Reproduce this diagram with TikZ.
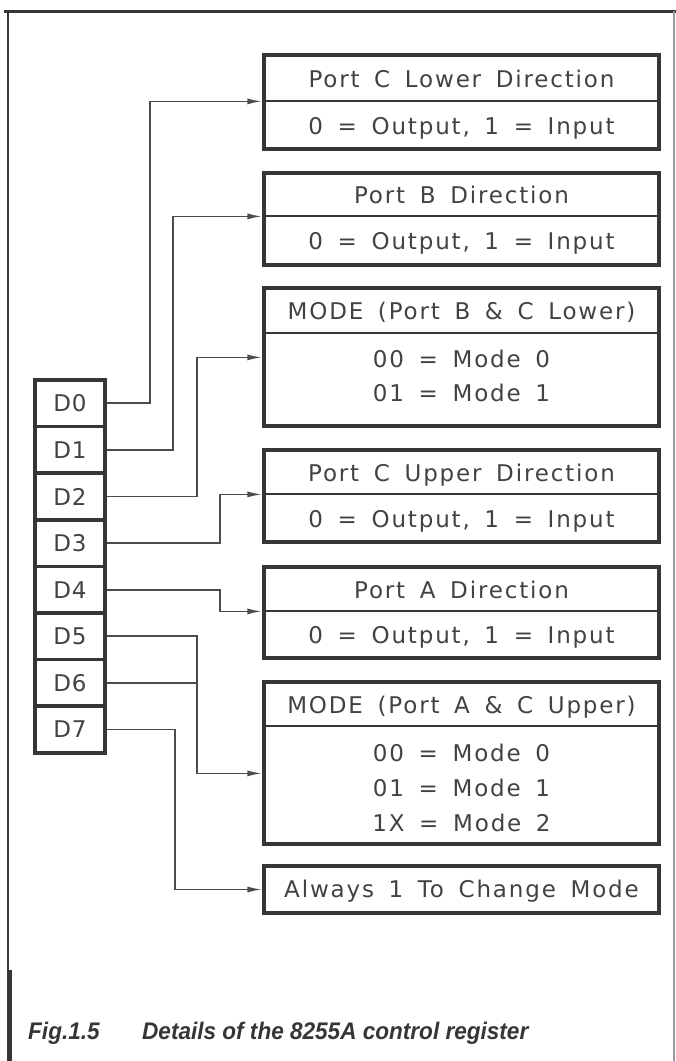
\documentclass[tikz,border=0pt]{standalone}
\usepackage{fontspec}
\setmainfont{DejaVu Sans}
\newfontfamily\cadfont[LetterSpace=8,WordSpace=1.6]{DejaVu Sans}
\newfontfamily\regfont[LetterSpace=4]{DejaVu Sans}
\newfontfamily\capfont[FakeStretch=0.94]{Liberation Sans}
\usetikzlibrary{arrows.meta,calc}

\definecolor{ink}{HTML}{363636}
\definecolor{txt}{HTML}{424242}
\definecolor{wire}{HTML}{4C4C4C}
\definecolor{edge}{HTML}{9A9A9A}

\tikzset{
  cell/.style={draw=ink, line width=3.6pt, minimum width=70pt, minimum height=46.6pt,
    inner sep=0pt, text=txt, font=\regfont\fontsize{23}{26}\selectfont},
  boxframe/.style={draw=ink, line width=3.2pt, minimum width=395pt, inner sep=0pt},
  boxtext/.style={text=txt, inner sep=0pt, anchor=base, font=\cadfont\fontsize{23}{27}\selectfont},
  divider/.style={draw=ink, line width=2pt},
  conn/.style={draw=wire, line width=1.8pt},
  arr/.style={conn, -{Latex[length=15pt,width=6pt]}},
  captext/.style={text=ink, inner sep=0pt, anchor=base west,
    font=\capfont\bfseries\itshape\fontsize{24}{28}\selectfont}
}

\begin{document}
\begin{tikzpicture}[x=1pt,y=-1pt]
\useasboundingbox (0,0) rectangle (676,1061);

% page frame
\draw[ink, line width=3pt] (4,11) -- (676,11);
\draw[ink, line width=2.4pt] (8,11) -- (8,1061);
\draw[ink, line width=5pt] (9,970) -- (9,1061);
\draw[edge, line width=1.2pt] (674,11) -- (674,1061);

% control register bits
\foreach \i in {0,...,7} {
  \node[cell] (D\i) at (70, 403.3+46.6*\i) {D\i};
}

% destination boxes
\node[boxframe, minimum height=94pt]  (b1) at (461.5,102) {};
\node[boxframe, minimum height=92pt]  (b2) at (461.5,219) {};
\node[boxframe, minimum height=138pt] (b3) at (461.5,357) {};
\node[boxframe, minimum height=92pt]  (b4) at (461.5,496) {};
\node[boxframe, minimum height=91pt]  (b5) at (461.5,612.5) {};
\node[boxframe, minimum height=162pt] (b6) at (461.5,763) {};
\node[boxframe, minimum height=47pt]  (b7) at (461.5,889.5) {};

% dividers under the titles
\coordinate (b1d) at ($(b1.north west)+(0,48)$);
\coordinate (b2d) at ($(b2.north west)+(0,45)$);
\coordinate (b3d) at ($(b3.north west)+(0,47)$);
\coordinate (b4d) at ($(b4.north west)+(0,46)$);
\coordinate (b5d) at ($(b5.north west)+(0,46)$);
\coordinate (b6d) at ($(b6.north west)+(0,46)$);
\foreach \b in {b1,b2,b3,b4,b5,b6} {
  \draw[divider] (\b d) -- (\b d -| \b.east);
}
\coordinate (in3) at ($(b3.north west)+(0,71)$);
\coordinate (in6) at ($(b6.north west)+(0,93)$);

% box texts
\node[boxtext] (t1a) at (461.5,87.4)  {Port C Lower Direction};
\node[boxtext] (t1b) at (461.5,134.4) {0 = Output, 1 = Input};
\node[boxtext] (t2a) at (461.5,203.9) {Port B Direction};
\node[boxtext] (t2b) at (461.5,249.9) {0 = Output, 1 = Input};
\node[boxtext] (t3a) at (461.5,319.9) {MODE (Port B \& C Lower)};
\node[boxtext] (t3b) at (461.5,367.4) {00 = Mode 0};
\node[boxtext] (t3c) at (461.5,401.4) {01 = Mode 1};
\node[boxtext] (t4a) at (461.5,481.4) {Port C Upper Direction};
\node[boxtext] (t4b) at (461.5,527.4) {0 = Output, 1 = Input};
\node[boxtext] (t5a) at (461.5,598.4) {Port A Direction};
\node[boxtext] (t5b) at (461.5,643.9) {0 = Output, 1 = Input};
\node[boxtext] (t6a) at (461.5,713.4) {MODE (Port A \& C Upper)};
\node[boxtext] (t6b) at (461.5,761.4) {00 = Mode 0};
\node[boxtext] (t6c) at (461.5,796.4) {01 = Mode 1};
\node[boxtext] (t6d) at (461.5,831.4) {1X = Mode 2};
\node[boxtext] (t7a) at (461.5,897.9) {Always 1 To Change Mode};

% routing columns
\coordinate (c0) at (150,0);
\coordinate (c1) at (173,0);
\coordinate (c2) at (197,0);
\coordinate (c3) at (220,0);
\coordinate (c7) at (175,0);

% bit connections
\draw[arr] (D0.east) -- (D0.east -| c0) |- (b1d);
\draw[arr] (D1.east) -- (D1.east -| c1) |- (b2d);
\draw[arr] (D2.east) -- (D2.east -| c2) |- (in3);
\draw[arr] (D3.east) -- (D3.east -| c3) |- (b4d);
\draw[arr] (D4.east) -- (D4.east -| c3) |- (b5d);
\draw[arr] (D5.east) -- (D5.east -| c2) |- (in6);
\draw[conn] (D6.east) -- (D6.east -| c2);
\draw[arr] (D7.east) -- (D7.east -| c7) |- (b7.west);

% caption
\node[captext] (fig) at (28,1039) {Fig.1.5};
\node[captext] (cap) at (142,1039) {Details of the 8255A control register};
\end{tikzpicture}
\end{document}
